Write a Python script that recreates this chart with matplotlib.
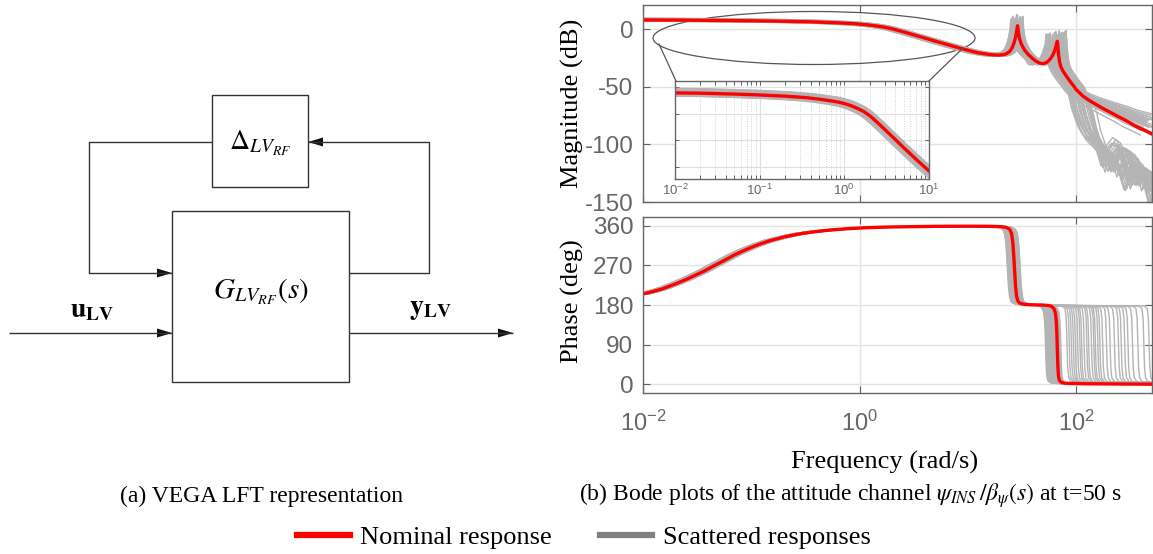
import numpy as np
import matplotlib.pyplot as plt
from matplotlib.lines import Line2D
from matplotlib.patches import Ellipse, Rectangle, Polygon
from matplotlib.ticker import FixedLocator, NullLocator, LogLocator, NullFormatter

plt.rcParams["font.family"] = ["Liberation Serif", "DejaVu Serif"]
plt.rcParams["mathtext.fontset"] = "stix"
plt.rcParams["axes.unicode_minus"] = False

# ---------------------------------------------------------------------------
# nominal response of psi_INS / beta_psi at t = 50 s
nom_w_mag = [0.01, 0.02, 0.05, 0.1, 0.2, 0.35, 0.5, 0.7, 0.85, 1.0, 1.2, 1.45,
             1.7, 2.0, 2.4, 3.0, 4.0, 5.0, 6.0, 7.0, 8.5, 10.0, 12.0, 14.5,
             17.0, 19.5, 22.0, 24.0, 25.5, 26.6, 27.5, 28.1, 28.5, 28.7, 28.9,
             29.3, 29.9, 30.7, 31.7, 33.5, 36.0, 39.0, 42.0,
             46.0, 50.0, 54.0, 58.0, 61.0, 63.5, 65.2, 66.2, 66.8, 67.3, 67.9,
             68.8, 70.0, 72.0, 75.0, 78.0, 82.0, 88.0, 95.0, 100.0, 115.0,
             130.0, 150.0, 170.0, 200.0, 240.0, 290.0, 350.0, 420.0, 500.0]
nom_mag = [8.0, 7.9, 7.6, 7.3, 6.9, 6.4, 5.9, 5.3, 4.9, 4.4, 3.7, 2.7,
           1.7, 0.3, -1.7, -4.3, -7.7, -10.4, -12.5, -14.3, -16.5, -18.3, -20.2, -21.5,
           -22.3, -22.5, -21.8, -19.8, -16.5, -12.0, -7.0, -2.0, 1.5, 3.0, 1.0,
           -3.5, -8.0, -11.5, -14.5, -18.5, -22.0, -25.0, -27.5,
           -29.5, -30.0, -28.5, -25.5, -22.0, -18.0, -14.0, -12.0, -10.5, -12.5, -17.0,
           -23.0, -28.0, -32.5, -36.0, -38.5, -41.5, -45.5, -49.5, -52.5, -58.0,
           -61.5, -65.0, -68.0, -71.5, -75.5, -79.5, -84.0, -87.5, -91.0]

nom_w_ph = [0.01, 0.0125, 0.015, 0.02, 0.025, 0.03, 0.037, 0.045, 0.055, 0.07,
            0.085, 0.1, 0.12, 0.15, 0.2, 0.25, 0.3, 0.4, 0.5, 0.7, 1.0, 1.5,
            2.0, 5.0, 10.0, 16.0, 20.0, 22.5, 24.3, 25.3, 26.0, 26.5, 27.0,
            27.5, 28.1, 28.9, 30.0, 33.0, 38.0,
            48.0, 55.0, 59.0, 62.0, 64.0, 65.3, 66.2, 66.9, 67.6, 68.5, 70.0,
            73.0, 80.0, 120.0, 500.0]
nom_ph = [205, 211, 216.5, 228, 238, 247, 257.5, 269, 280, 294,
          303.5, 311, 318.5, 326.5, 334.5, 339.5, 343, 347, 349.7, 352.6, 355, 356.6,
          357.4, 358.8, 359, 358.8, 358, 356.5, 352, 342, 320, 290, 255,
          222, 200, 189, 184.5, 181.5, 180.5,
          180, 179, 177, 172, 163, 145, 115, 75, 40, 18, 8,
          4, 2, 1, 0]

# the two flexible modes of the nominal curve
MODE_SPLIT = 44.0
PEAK_W = [28.7, 66.8]

# scattered responses, group 1: both modes shift, roll-off slope varies
scat_f1 = [0.86, 0.90, 0.93, 0.95, 0.97, 0.99, 1.01, 1.03, 1.05, 1.07, 1.10, 0.88,
           0.92, 0.96, 1.00, 1.04, 1.08, 1.13, 0.94, 0.98, 1.02, 1.06, 0.89, 0.91,
           1.00, 1.09, 0.95, 1.03, 0.87, 1.12]
scat_f2 = [0.78, 0.80, 0.82, 0.84, 0.86, 0.88, 0.90, 0.92, 0.94, 0.96, 0.98, 1.00,
           1.02, 1.04, 1.06, 1.08, 0.83, 0.87, 0.91, 0.95, 0.99, 1.03, 0.79, 0.85,
           0.93, 0.97, 1.01, 1.05, 0.81, 0.89]
scat_gain = [-0.8, 0.5, -0.3, 1.3, 0.2, -1.0, 0.7, -0.5, 1.5, 0.0, -0.6, 0.9,
             -0.2, 0.4, -0.9, 1.4, 0.3, -0.4, 0.8, -0.7, 0.1, 0.6, -1.1, 1.0,
             -0.1, 0.5, -0.3, 1.2, 0.2, -0.5]
scat_peak = [3, 6, 1, 4, 7, 2, 5, 0, 6, 3, 2, 5, 1, 4, 7, 2, 6, 3, 0, 5,
             4, 1, 7, 2, 6, 3, 4, 1, 5, 2]
scat_tilt = [0, 3, 6, 9, 12, 15, 18, 2, 5, 8, 11, 14, 17, 20, 1, 4, 7, 10, 13, 16,
             2, 6, 9, 12, 15, 19, 0, 5, 10, 14]

# scattered responses, group 2: last 180 deg drop moves to high frequency
late_f1 = [0.87, 0.91, 0.94, 0.97, 1.00, 1.03, 1.06, 1.09, 1.12, 0.89, 0.93, 0.96,
           0.99, 1.02, 1.05, 1.08, 1.11, 0.88, 0.92, 0.95, 0.98, 1.01, 1.04, 1.07,
           1.10, 0.90, 1.00, 1.06]
late_f2 = [0.92, 0.95, 0.98, 1.01, 1.04, 1.07, 1.10, 1.13, 1.16, 1.19, 1.22, 0.94,
           0.97, 1.00, 1.03, 1.06, 1.09, 1.12, 1.15, 1.18, 1.21, 0.93, 0.99, 1.05,
           1.11, 1.17, 0.96, 1.08]
late_gain = [0.6, -0.4, 1.0, -0.9, 0.3, -0.2, 0.8, -0.7, 0.1, 1.1, -1.0, 0.4,
             -0.5, 0.9, -0.1, 0.6, -0.8, 0.2, 1.0, -0.3, 0.7, -0.6, 0.0, 0.5,
             -0.9, 0.3, -0.4, 0.8]
late_peak = [5, 8, 2, 6, 9, 4, 7, 1, 8, 5, 3, 6, 9, 2, 7, 4, 8, 3, 6, 1,
             9, 5, 2, 7, 4, 8, 3, 6]
late_cut = [76, 80, 84, 88, 92, 96, 100, 105, 110, 115, 120, 126, 132, 140,
            78, 86, 94, 102, 112, 124, 136, 82, 90, 98, 108, 118, 130, 145]
late_drop = [82, 86, 90, 94, 98, 103, 108, 112, 118, 125, 130, 138, 145, 150, 158,
             165, 175, 190, 205, 225, 245, 260, 280, 300, 330, 370, 420, 470]

# shape of the high-frequency tail (relative to where it leaves the band)
tail_rel_w = [1.1, 1.2, 1.35, 1.5, 1.7, 2.0, 2.25, 2.5, 2.8, 3.1, 3.4, 3.8, 4.3, 5.0, 6.0]
tail_rel_db = [-12, -28, -42, -50, -55, -62, -78, -64, -58, -61, -72, -90, -75, -80, -100]
# shape of a late phase drop (relative to its centre frequency)
drop_rel_w = [0.9, 0.96, 0.985, 1.0, 1.015, 1.04, 1.1, 1.4, 8.0]
drop_ph = [178, 172, 150, 95, 40, 14, 6, 4, 3]

RED = "#ff0000"
GRAY = "#b4b4b4"


def two_mode_shift(w, v, f_lo, f_hi):
    w = np.asarray(w, float)
    v = np.asarray(v, float)
    lo = w < MODE_SPLIT
    w_lo, w_hi = w[lo] * f_lo, w[~lo] * f_hi
    keep = w_lo < w_hi[0]
    return np.r_[w_lo[keep], w_hi], np.r_[v[lo][keep], v[~lo]]


def peak_boost(w_nom, boost):
    return np.isin(np.asarray(w_nom), PEAK_W) * boost


# ---------------------------------------------------------------------------
W, H = 1153, 554
fig = plt.figure(figsize=(W / 100, H / 100), dpi=100)


def frac(x0, y0, x1, y1):
    return [x0 / W, 1 - y1 / H, (x1 - x0) / W, (y1 - y0) / H]


ax_mag = fig.add_axes(frac(643, 5, 1152, 202))
ax_ph = fig.add_axes(frac(643, 217, 1152, 393))
ax_in = fig.add_axes(frac(675, 81, 929, 179))

for ax in (ax_mag, ax_ph):
    ax.set_xscale("log")
    ax.set_xlim(0.01, 500)
    ax.xaxis.set_major_locator(FixedLocator([1e-2, 1e0, 1e2]))
    ax.xaxis.set_minor_locator(NullLocator())
    ax.grid(True, color="#e4e4e4", lw=1.0)
    ax.set_axisbelow(True)
    ax.tick_params(direction="in", top=True, right=True, length=5, width=0.8,
                   color="#606060", labelcolor="#666666",
                   labelfontfamily="Liberation Sans")
    ax.tick_params(axis="y", labelsize=17.5, pad=7)
    ax.tick_params(axis="x", labelsize=17, pad=13)
    for sp in ax.spines.values():
        sp.set_color("#666666")
        sp.set_linewidth(1.0)

ax_mag.tick_params(axis="x", labelbottom=False)
ax_mag.set_ylim(-150, 21)
ax_mag.set_yticks([-150, -100, -50, 0])
ax_ph.set_ylim(-20, 380)
ax_ph.set_yticks([0, 90, 180, 270, 360])

# inset zoom on the low-frequency magnitude
ax_in.set_xscale("log")
ax_in.set_xlim(0.01, 10)
ax_in.set_ylim(-21, 12)
ax_in.xaxis.set_major_locator(LogLocator(base=10, numticks=10))
ax_in.xaxis.set_minor_locator(LogLocator(base=10, subs=np.arange(2, 10), numticks=10))
ax_in.xaxis.set_minor_formatter(NullFormatter())
ax_in.set_yticks([10, 1, -8, -17])
ax_in.grid(True, which="major", color="#e0e0e0", lw=0.8)
ax_in.grid(True, which="minor", axis="x", color="#c4c4c4", lw=0.6, ls=(0, (1, 2)))
ax_in.set_axisbelow(True)
ax_in.tick_params(which="both", direction="in", top=True, right=True, length=3,
                  width=0.7, color="#606060", labelcolor="#666666",
                  labelfontfamily="Liberation Sans", labelsize=9.5, pad=3,
                  labelleft=False)
for sp in ax_in.spines.values():
    sp.set_color("#666666")
    sp.set_linewidth(1.0)

# scattered curves
for f1, f2, g, pk, tilt in zip(scat_f1, scat_f2, scat_gain, scat_peak, scat_tilt):
    wm, m = two_mode_shift(nom_w_mag, nom_mag + peak_boost(nom_w_mag, pk), f1, f2)
    m = m + g + tilt * np.clip(np.log10(wm / (75.0 * f2)), 0, None)
    wp, p = two_mode_shift(nom_w_ph, nom_ph, f1, f2)
    for ax in (ax_mag, ax_in):
        ax.plot(wm, m, color=GRAY, lw=1.0)
    ax_ph.plot(wp, p, color=GRAY, lw=1.0)

for f1, f2, g, pk, cut, wd in zip(late_f1, late_f2, late_gain, late_peak,
                                  late_cut, late_drop):
    wm, m = two_mode_shift(nom_w_mag, nom_mag + peak_boost(nom_w_mag, pk), f1, f2)
    keep = wm <= cut
    wm, m = wm[keep], m[keep] + g
    wm = np.r_[wm, wm[-1] * np.asarray(tail_rel_w)]
    m = np.r_[m, m[-1] + np.asarray(tail_rel_db)]
    for ax in (ax_mag, ax_in):
        ax.plot(wm, m, color=GRAY, lw=1.0)

    lo = np.asarray(nom_w_ph) < MODE_SPLIT
    wp = np.r_[np.asarray(nom_w_ph)[lo] * f1, 52.0, wd * np.asarray(drop_rel_w)]
    p = np.r_[np.asarray(nom_ph)[lo], 179.0, drop_ph]
    ax_ph.plot(wp, p, color=GRAY, lw=1.0)

# nominal curve on top
for ax in (ax_mag, ax_in):
    ax.plot(nom_w_mag, nom_mag, color=RED, lw=2.4)
ax_ph.plot(nom_w_ph, nom_ph, color=RED, lw=2.4)

ax_mag.set_ylabel("Magnitude (dB)", fontsize=19, va="center")
ax_mag.yaxis.set_label_coords(-0.1395, 0.5)
ax_ph.set_ylabel("Phase (deg)", fontsize=19, va="center")
ax_ph.yaxis.set_label_coords(-0.1395, 0.52)
ax_ph.set_xlabel("Frequency (rad/s)", fontsize=19, va="center")
ax_ph.xaxis.set_label_coords(0.475, -0.392)

# zoom marker: ellipse around the low-frequency part plus leader lines
ax_mag.add_patch(Ellipse((0.336, 0.8325), 0.6326, 0.269, transform=ax_mag.transAxes,
                         fill=False, ec="#555555", lw=0.9, clip_on=False))
for (x0, y0), (x1, y1) in [((659, 44), (676, 81)), ((963, 48), (929, 81))]:
    fig.add_artist(Line2D([x0 / W, x1 / W], [1 - y0 / H, 1 - y1 / H],
                          transform=fig.transFigure, color="#555555", lw=0.9))

# ---------------------------------------------------------------------------
# LFT block diagram
ax_blk = fig.add_axes(frac(0, 0, 540, 470))
ax_blk.set_xlim(0, 540)
ax_blk.set_ylim(470, 0)
ax_blk.axis("off")
INK = "#333333"


def arrow(ax, pts):
    xs, ys = zip(*pts)
    ax.plot(xs, ys, color=INK, lw=1.0, solid_capstyle="butt")
    (xa, ya), (xb, yb) = pts[-2], pts[-1]
    d = np.array([xb - xa, yb - ya], float)
    d /= np.hypot(*d)
    n = np.array([-d[1], d[0]])
    tip = np.array([xb, yb], float)
    base = tip - 15 * d
    ax.add_patch(Polygon([tip, base + 4.5 * n, base - 4.5 * n], closed=True,
                         fc="#111111", ec="none"))


ax_blk.add_patch(Rectangle((212, 95), 96, 92, fill=False, ec=INK, lw=1.0))
ax_blk.add_patch(Rectangle((172, 211), 177, 171, fill=False, ec=INK, lw=1.0))
arrow(ax_blk, [(212, 142), (89, 142), (89, 273), (172, 273)])
arrow(ax_blk, [(349, 273), (429, 273), (429, 142), (308, 142)])
arrow(ax_blk, [(9, 333), (172, 333)])
arrow(ax_blk, [(349, 333), (513, 333)])

ax_blk.text(260, 143, r"$\Delta_{LV_{RF}}$", fontsize=20, ha="center", va="center")
ax_blk.text(261, 292, r"$G_{LV_{RF}}(s)$", fontsize=21, ha="center", va="center")
ax_blk.text(92, 310, r"$\mathbf{u}_{\mathbf{LV}}$", fontsize=20, ha="center", va="center")
ax_blk.text(430, 310, r"$\mathbf{y}_{\mathbf{LV}}$", fontsize=20, ha="center", va="center")

# captions and shared legend
fig.text(261 / W, 1 - 496 / H, "(a) VEGA LFT representation", fontsize=17,
         ha="center", va="center")
fig.text(850 / W, 1 - 496 / H,
         r"(b) Bode plots of the attitude channel $\psi_{INS}\,/\beta_{\psi}(s)$ at t=50 s",
         fontsize=17, ha="center", va="center")
fig.legend(handles=[Line2D([], [], color=RED, lw=4.5),
                    Line2D([], [], color="#808080", lw=4.5)],
           labels=["Nominal response", "Scattered responses"],
           loc="center", bbox_to_anchor=(584 / W, 1 - 537 / H), ncol=2,
           frameon=False, fontsize=19, handlelength=2.0, handletextpad=0.4,
           columnspacing=1.8, borderpad=0, borderaxespad=0)

fig.savefig("out.png", dpi=100)
